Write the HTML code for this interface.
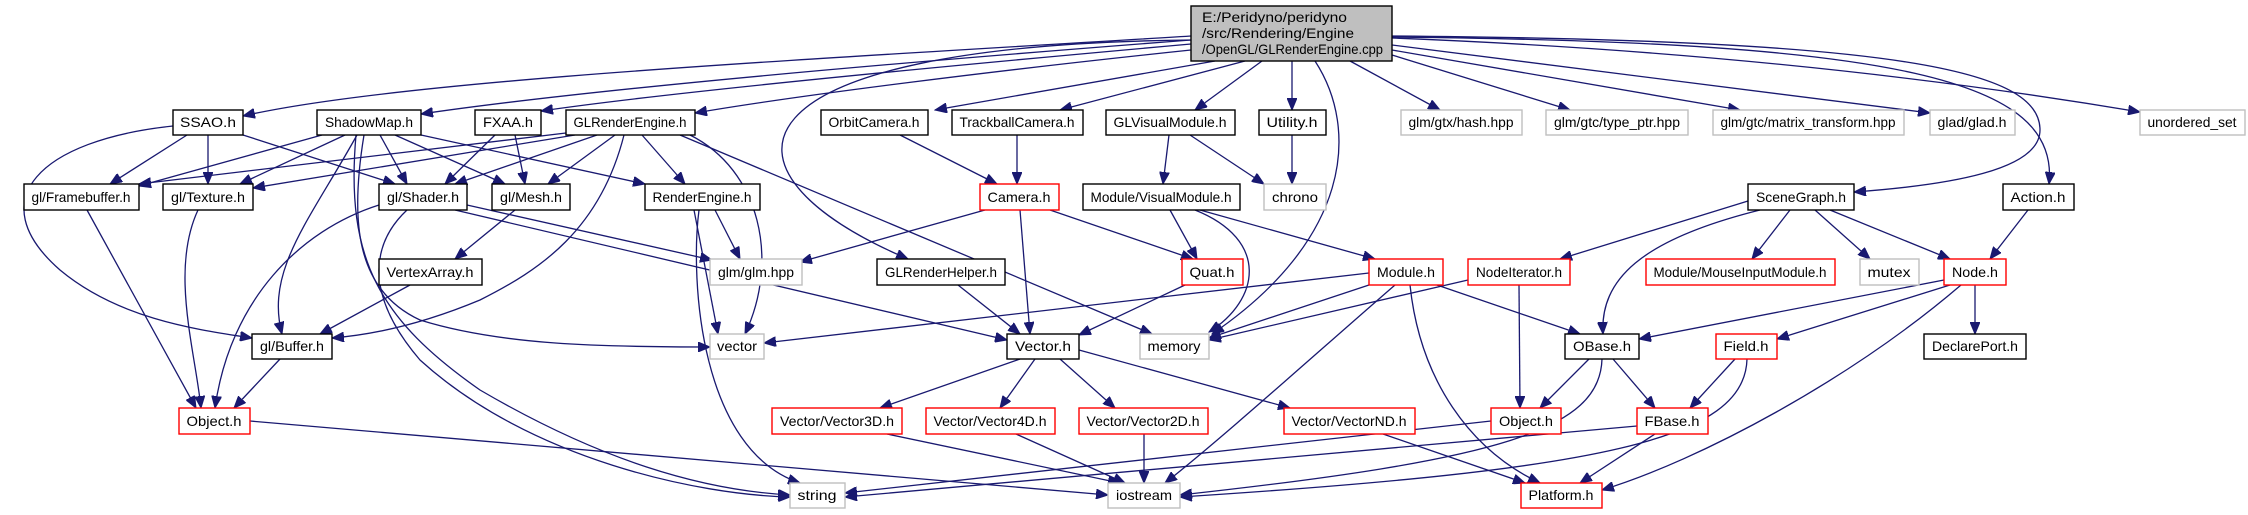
<!DOCTYPE html>
<html><head><meta charset="utf-8"><style>
html,body{margin:0;padding:0;background:#fff;}
svg{display:block;}
text{font-family:"Liberation Sans",Arial,sans-serif;font-size:14px;fill:#000;}
.b{fill:#fff;stroke:#000;stroke-width:1.4;}
.r{fill:#fff;stroke:#ff0000;stroke-width:1.4;}
.g{fill:#fff;stroke:#bfbfbf;stroke-width:1.4;}
.e path{fill:none;stroke:#191970;stroke-width:1.3;marker-end:url(#a);}
</style></head><body>
<svg width="2248" height="515" viewBox="0 0 2248 515" xmlns="http://www.w3.org/2000/svg">
<defs><marker id="a" markerUnits="userSpaceOnUse" markerWidth="13" markerHeight="10" refX="12" refY="5" orient="auto"><path d="M0,0 L12,5 L0,10 z" fill="#191970" stroke="#191970"/></marker></defs>
<g class="e">
<path d="M1191,36 C800,60 400,80 243,116"/>
<path d="M1191,40 C800,70 550,95 421,114"/>
<path d="M1191,44 C900,70 650,95 541,111"/>
<path d="M1191,50 C1000,70 800,95 695,113"/>
<path d="M1215,61 L935,110"/>
<path d="M1245,61 L1060,110"/>
<path d="M1262,61 L1195,110"/>
<path d="M1292,61 L1292,110"/>
<path d="M1350,61 L1440,110"/>
<path d="M1392,55 L1570,110"/>
<path d="M1392,50 L1740,110"/>
<path d="M1392,45 L1930,113"/>
<path d="M1392,38 C1700,50 1950,80 2140,112"/>
<path d="M1392,36 C1900,40 2040,70 2040,130 C2040,170 1950,185 1854,192"/>
<path d="M1392,37 C1900,42 2060,80 2049,184"/>
<path d="M1315,61 C1360,130 1350,240 1212,334"/>
<path d="M1191,40 C720,45 700,170 908,259"/>
<path d="M187,135 L110,184"/>
<path d="M208,135 L208,184"/>
<path d="M243,135 L395,184"/>
<path d="M173,126 C40,140 -20,200 60,270 C120,320 200,330 252,338"/>
<path d="M322,135 L139,186"/>
<path d="M345,135 L240,184"/>
<path d="M380,135 L407,184"/>
<path d="M395,135 L505,184"/>
<path d="M421,135 L645,184"/>
<path d="M357,135 C310,220 265,270 282,334"/>
<path d="M364,135 C350,220 355,290 420,320 C500,345 600,347 710,347"/>
<path d="M356,135 C345,260 380,320 480,390 C600,460 700,490 790,495"/>
<path d="M495,135 L445,184"/>
<path d="M515,135 L525,184"/>
<path d="M566,133 L139,184"/>
<path d="M575,135 L253,188"/>
<path d="M597,135 L455,184"/>
<path d="M615,135 L548,184"/>
<path d="M642,135 L685,184"/>
<path d="M624,135 C600,230 540,270 480,300 C420,325 370,335 332,338"/>
<path d="M680,135 L1152,334"/>
<path d="M690,135 C760,170 780,260 745,334"/>
<path d="M379,205 C300,230 230,300 215,408"/>
<path d="M407,210 C375,240 360,290 420,360 C530,460 700,495 790,497"/>
<path d="M467,205 L712,260"/>
<path d="M455,210 L1007,340"/>
<path d="M515,210 L455,259"/>
<path d="M410,285 L320,334"/>
<path d="M699,210 C690,280 700,450 800,483"/>
<path d="M694,210 L718,334"/>
<path d="M715,210 L740,259"/>
<path d="M87,210 L196,408"/>
<path d="M198,210 C170,270 195,350 201,408"/>
<path d="M280,359 L234,408"/>
<path d="M250,421 L1108,495"/>
<path d="M985,210 L800,262"/>
<path d="M1020,210 L1030,334"/>
<path d="M1050,210 L1193,259"/>
<path d="M900,135 L997,184"/>
<path d="M1017,135 L1017,184"/>
<path d="M1169,135 L1163,184"/>
<path d="M1190,135 L1264,184"/>
<path d="M1292,135 L1292,184"/>
<path d="M1170,210 L1197,259"/>
<path d="M1195,210 C1270,240 1260,300 1209,332"/>
<path d="M1200,210 L1375,259"/>
<path d="M1185,285 L1079,335"/>
<path d="M958,285 L1020,334"/>
<path d="M1369,273 L764,343"/>
<path d="M1369,285 L1209,338"/>
<path d="M1395,285 C1320,350 1220,440 1165,483"/>
<path d="M1410,285 C1420,380 1470,450 1540,483"/>
<path d="M1437,285 L1580,334"/>
<path d="M1468,280 L1209,340"/>
<path d="M1519,285 L1520,408"/>
<path d="M1748,201 L1560,259"/>
<path d="M1760,210 C1640,240 1600,280 1603,334"/>
<path d="M1790,210 L1752,259"/>
<path d="M1815,210 L1870,259"/>
<path d="M1830,210 L1950,259"/>
<path d="M2028,210 L1990,259"/>
<path d="M1944,280 L1639,339"/>
<path d="M1950,285 L1777,339"/>
<path d="M1961,285 C1850,380 1700,460 1602,490"/>
<path d="M1975,285 L1975,334"/>
<path d="M1589,359 L1540,408"/>
<path d="M1613,359 L1655,408"/>
<path d="M1602,359 C1600,430 1500,460 1180,495"/>
<path d="M1735,359 L1690,408"/>
<path d="M1747,359 C1745,440 1600,470 1180,497"/>
<path d="M1637,426 L845,497"/>
<path d="M1655,434 L1580,483"/>
<path d="M1491,421 L845,493"/>
<path d="M1020,359 L880,408"/>
<path d="M1035,359 L1000,408"/>
<path d="M1060,359 L1115,408"/>
<path d="M1079,350 L1290,408"/>
<path d="M887,434 L1120,483"/>
<path d="M1016,434 L1125,483"/>
<path d="M1144,434 L1144,483"/>
<path d="M1383,434 L1525,483"/>
</g>
<rect x="1191" y="6" width="201" height="55" fill="#bfbfbf" stroke="#000" stroke-width="1.4"/>
<text x="1202" y="22" textLength="145" lengthAdjust="spacingAndGlyphs">E:/Peridyno/peridyno</text>
<text x="1202" y="38" textLength="152" lengthAdjust="spacingAndGlyphs">/src/Rendering/Engine</text>
<text x="1202" y="54" textLength="181" lengthAdjust="spacingAndGlyphs">/OpenGL/GLRenderEngine.cpp</text>
<g text-anchor="middle">
<rect class="b" x="173" y="110" width="70" height="25"/><text x="208" y="127" textLength="56" lengthAdjust="spacingAndGlyphs">SSAO.h</text>
<rect class="b" x="317" y="110" width="104" height="25"/><text x="369" y="127" textLength="88" lengthAdjust="spacingAndGlyphs">ShadowMap.h</text>
<rect class="b" x="475" y="110" width="66" height="25"/><text x="508" y="127" textLength="50" lengthAdjust="spacingAndGlyphs">FXAA.h</text>
<rect class="b" x="566" y="110" width="129" height="25"/><text x="630" y="127" textLength="113" lengthAdjust="spacingAndGlyphs">GLRenderEngine.h</text>
<rect class="b" x="821" y="110" width="107" height="25"/><text x="874" y="127" textLength="91" lengthAdjust="spacingAndGlyphs">OrbitCamera.h</text>
<rect class="b" x="952" y="110" width="131" height="25"/><text x="1017" y="127" textLength="115" lengthAdjust="spacingAndGlyphs">TrackballCamera.h</text>
<rect class="b" x="1106" y="110" width="129" height="25"/><text x="1170" y="127" textLength="113" lengthAdjust="spacingAndGlyphs">GLVisualModule.h</text>
<rect class="b" x="1259" y="110" width="67" height="25"/><text x="1292" y="127" textLength="51" lengthAdjust="spacingAndGlyphs">Utility.h</text>
<rect class="g" x="1401" y="110" width="121" height="25"/><text x="1461" y="127" textLength="105" lengthAdjust="spacingAndGlyphs">glm/gtx/hash.hpp</text>
<rect class="g" x="1546" y="110" width="142" height="25"/><text x="1617" y="127" textLength="126" lengthAdjust="spacingAndGlyphs">glm/gtc/type_ptr.hpp</text>
<rect class="g" x="1713" y="110" width="191" height="25"/><text x="1808" y="127" textLength="175" lengthAdjust="spacingAndGlyphs">glm/gtc/matrix_transform.hpp</text>
<rect class="g" x="1930" y="110" width="85" height="25"/><text x="1972" y="127" textLength="69" lengthAdjust="spacingAndGlyphs">glad/glad.h</text>
<rect class="g" x="2140" y="110" width="105" height="25"/><text x="2192" y="127" textLength="89" lengthAdjust="spacingAndGlyphs">unordered_set</text>
<rect class="b" x="24" y="184" width="115" height="26"/><text x="81" y="202" textLength="99" lengthAdjust="spacingAndGlyphs">gl/Framebuffer.h</text>
<rect class="b" x="163" y="184" width="90" height="26"/><text x="208" y="202" textLength="74" lengthAdjust="spacingAndGlyphs">gl/Texture.h</text>
<rect class="b" x="379" y="184" width="88" height="26"/><text x="423" y="202" textLength="72" lengthAdjust="spacingAndGlyphs">gl/Shader.h</text>
<rect class="b" x="492" y="184" width="78" height="26"/><text x="531" y="202" textLength="62" lengthAdjust="spacingAndGlyphs">gl/Mesh.h</text>
<rect class="b" x="645" y="184" width="115" height="26"/><text x="702" y="202" textLength="99" lengthAdjust="spacingAndGlyphs">RenderEngine.h</text>
<rect class="r" x="980" y="184" width="79" height="26"/><text x="1019" y="202" textLength="63" lengthAdjust="spacingAndGlyphs">Camera.h</text>
<rect class="b" x="1083" y="184" width="157" height="26"/><text x="1161" y="202" textLength="141" lengthAdjust="spacingAndGlyphs">Module/VisualModule.h</text>
<rect class="g" x="1264" y="184" width="62" height="26"/><text x="1295" y="202" textLength="46" lengthAdjust="spacingAndGlyphs">chrono</text>
<rect class="b" x="1748" y="184" width="106" height="26"/><text x="1801" y="202" textLength="90" lengthAdjust="spacingAndGlyphs">SceneGraph.h</text>
<rect class="b" x="2003" y="184" width="71" height="26"/><text x="2038" y="202" textLength="55" lengthAdjust="spacingAndGlyphs">Action.h</text>
<rect class="b" x="379" y="259" width="103" height="26"/><text x="430" y="277" textLength="87" lengthAdjust="spacingAndGlyphs">VertexArray.h</text>
<rect class="g" x="710" y="259" width="92" height="26"/><text x="756" y="277" textLength="76" lengthAdjust="spacingAndGlyphs">glm/glm.hpp</text>
<rect class="b" x="877" y="259" width="128" height="26"/><text x="941" y="277" textLength="112" lengthAdjust="spacingAndGlyphs">GLRenderHelper.h</text>
<rect class="r" x="1182" y="259" width="61" height="26"/><text x="1212" y="277" textLength="45" lengthAdjust="spacingAndGlyphs">Quat.h</text>
<rect class="r" x="1369" y="259" width="74" height="26"/><text x="1406" y="277" textLength="58" lengthAdjust="spacingAndGlyphs">Module.h</text>
<rect class="r" x="1468" y="259" width="102" height="26"/><text x="1519" y="277" textLength="86" lengthAdjust="spacingAndGlyphs">NodeIterator.h</text>
<rect class="r" x="1646" y="259" width="189" height="26"/><text x="1740" y="277" textLength="173" lengthAdjust="spacingAndGlyphs">Module/MouseInputModule.h</text>
<rect class="g" x="1860" y="259" width="59" height="26"/><text x="1889" y="277" textLength="43" lengthAdjust="spacingAndGlyphs">mutex</text>
<rect class="r" x="1944" y="259" width="62" height="26"/><text x="1975" y="277" textLength="46" lengthAdjust="spacingAndGlyphs">Node.h</text>
<rect class="b" x="252" y="334" width="80" height="25"/><text x="292" y="351" textLength="64" lengthAdjust="spacingAndGlyphs">gl/Buffer.h</text>
<rect class="g" x="710" y="334" width="54" height="25"/><text x="737" y="351" textLength="40" lengthAdjust="spacingAndGlyphs">vector</text>
<rect class="b" x="1007" y="334" width="72" height="25"/><text x="1043" y="351" textLength="56" lengthAdjust="spacingAndGlyphs">Vector.h</text>
<rect class="g" x="1140" y="334" width="69" height="25"/><text x="1174" y="351" textLength="53" lengthAdjust="spacingAndGlyphs">memory</text>
<rect class="b" x="1565" y="334" width="74" height="25"/><text x="1602" y="351" textLength="58" lengthAdjust="spacingAndGlyphs">OBase.h</text>
<rect class="r" x="1716" y="334" width="61" height="25"/><text x="1746" y="351" textLength="45" lengthAdjust="spacingAndGlyphs">Field.h</text>
<rect class="b" x="1924" y="334" width="102" height="25"/><text x="1975" y="351" textLength="86" lengthAdjust="spacingAndGlyphs">DeclarePort.h</text>
<rect class="r" x="179" y="408" width="71" height="26"/><text x="214" y="426" textLength="55" lengthAdjust="spacingAndGlyphs">Object.h</text>
<rect class="r" x="772" y="408" width="130" height="26"/><text x="837" y="426" textLength="114" lengthAdjust="spacingAndGlyphs">Vector/Vector3D.h</text>
<rect class="r" x="926" y="408" width="129" height="26"/><text x="990" y="426" textLength="113" lengthAdjust="spacingAndGlyphs">Vector/Vector4D.h</text>
<rect class="r" x="1079" y="408" width="129" height="26"/><text x="1143" y="426" textLength="113" lengthAdjust="spacingAndGlyphs">Vector/Vector2D.h</text>
<rect class="r" x="1284" y="408" width="131" height="26"/><text x="1349" y="426" textLength="115" lengthAdjust="spacingAndGlyphs">Vector/VectorND.h</text>
<rect class="r" x="1491" y="408" width="70" height="26"/><text x="1526" y="426" textLength="54" lengthAdjust="spacingAndGlyphs">Object.h</text>
<rect class="r" x="1637" y="408" width="71" height="26"/><text x="1672" y="426" textLength="55" lengthAdjust="spacingAndGlyphs">FBase.h</text>
<rect class="g" x="790" y="483" width="55" height="25"/><text x="817" y="500" textLength="39" lengthAdjust="spacingAndGlyphs">string</text>
<rect class="g" x="1108" y="483" width="72" height="25"/><text x="1144" y="500" textLength="56" lengthAdjust="spacingAndGlyphs">iostream</text>
<rect class="r" x="1521" y="483" width="81" height="25"/><text x="1561" y="500" textLength="65" lengthAdjust="spacingAndGlyphs">Platform.h</text>
</g>
</svg>
</body></html>
